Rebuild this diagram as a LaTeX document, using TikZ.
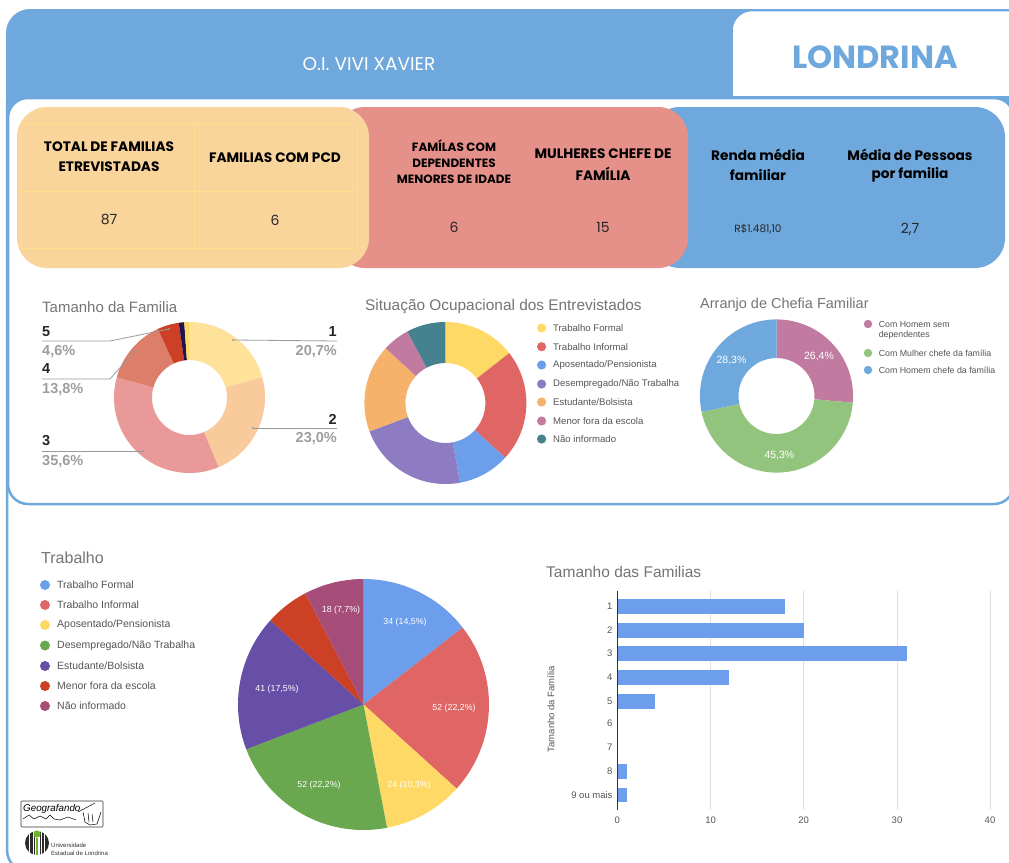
\documentclass[tikz,border=0pt]{standalone}
\usepackage{fontspec}
\setmainfont{Liberation Sans}
\newfontfamily\gothic{Poppins}
\definecolor{hblue}{HTML}{6FA8DC}
\definecolor{orangecard}{HTML}{F9D49B}
\definecolor{redcard}{HTML}{E6908A}
\definecolor{tline}{HTML}{FFE08A}
\definecolor{ttl}{HTML}{757575}
\definecolor{lgd}{HTML}{555555}
\definecolor{pctgrey}{HTML}{9E9E9E}
\definecolor{lead}{HTML}{9A9A9A}
\definecolor{gridc}{HTML}{DEDEDE}
\definecolor{barb}{HTML}{6D9EEB}
\definecolor{d1a}{HTML}{FFE299}
\definecolor{d1b}{HTML}{F9CB9C}
\definecolor{d1c}{HTML}{EA9999}
\definecolor{d1d}{HTML}{DD7E6B}
\definecolor{d1e}{HTML}{CC4125}
\definecolor{d1f}{HTML}{20124D}
\definecolor{d1g}{HTML}{FFD966}
\definecolor{cyel}{HTML}{FFD966}
\definecolor{cred}{HTML}{E06666}
\definecolor{cblu}{HTML}{6D9EEB}
\definecolor{cpur}{HTML}{8E7CC3}
\definecolor{cora}{HTML}{F6B26B}
\definecolor{cpin}{HTML}{C27BA0}
\definecolor{ctea}{HTML}{45818E}
\definecolor{cgrl}{HTML}{93C47D}
\definecolor{cgrn}{HTML}{6AA84F}
\definecolor{cvio}{HTML}{674EA7}
\definecolor{cdre}{HTML}{CC4125}
\definecolor{cmag}{HTML}{A64D79}
\definecolor{uelg}{HTML}{6FB52C}
\definecolor{ueld}{HTML}{2B2B2B}
\newcommand{\ringchart}[5]{%
  \begin{scope}[shift={(#1,#2)},y=1pt]
    \foreach \aa/\bb/\cc in {#5}{
      \fill[\cc] ({90-\aa}:#3) arc[start angle={90-\aa},end angle={90-\bb},radius=#3]
        -- ({90-\bb}:#4) arc[start angle={90-\bb},end angle={90-\aa},radius=#4] -- cycle;
    }
  \end{scope}}
\tikzset{
  card/.style={rounded corners=30pt},
  head/.style={font=\gothic\bfseries\fontsize{13.7}{13.7}\selectfont,inner sep=0pt,text=black},
  small/.style={font=\gothic\bfseries\fontsize{12}{12}\selectfont,inner sep=0pt,text=black},
  val/.style={font=\gothic\fontsize{14}{14}\selectfont,inner sep=0pt,text=black!85},
  ctitle/.style={anchor=west,inner sep=0pt,text=ttl},
  lga/.style={anchor=west,inner sep=0pt,text=lgd,font=\fontsize{9.6}{9.6}\selectfont},
  lgb/.style={anchor=west,inner sep=0pt,text=lgd,font=\fontsize{8.8}{8.8}\selectfont},
  lgc/.style={anchor=west,inner sep=0pt,text=lgd,font=\fontsize{10.5}{10.5}\selectfont},
  wl/.style={text=white,inner sep=0pt,font=\fontsize{8.8}{8.8}\selectfont},
  wm/.style={text=white,inner sep=0pt,font=\fontsize{10.5}{10.5}\selectfont},
  catl/.style={inner sep=0pt,anchor=west,font=\bfseries\fontsize{14.5}{14.5}\selectfont,text=black!85},
  catr/.style={inner sep=0pt,anchor=east,font=\bfseries\fontsize{14.5}{14.5}\selectfont,text=black!85},
  pctl/.style={inner sep=0pt,anchor=west,font=\bfseries\fontsize{14.5}{14.5}\selectfont,text=pctgrey},
  pctr/.style={inner sep=0pt,anchor=east,font=\bfseries\fontsize{14.5}{14.5}\selectfont,text=pctgrey},
  leader/.style={draw=lead,line width=0.8pt},
  enddot/.style={fill=lead},
  tickl/.style={inner sep=0pt,font=\fontsize{9.5}{9.5}\selectfont,text=lgd},
  tableline/.style={draw=tline,line width=0.6pt},
}
\begin{document}
\begin{tikzpicture}[x=1pt,y=-1pt]
\useasboundingbox (0,0) rectangle (1009,862);
\fill[white] (0,0) rectangle (1009,862);
% header and outer frame
\fill[hblue,rounded corners=24pt] (1040,9) -- (6,9) -- (6,160) -- (1040,160) -- cycle;
\begin{scope}
\clip (0,0) rectangle (1009,862);
\draw[hblue,line width=2.5pt,rounded corners=22pt] (7,100) -- (7,872) -- (50,872);
% white tab
\filldraw[fill=white,draw=hblue,line width=1.5pt,rounded corners=20pt] (1060,10.5) -- (732,10.5) -- (732,140) -- (1060,140) -- cycle;
% panel
\fill[hblue] (6,96) rectangle (1009,130);
\filldraw[fill=white,draw=hblue,line width=2.5pt,rounded corners=20pt] (8,98) rectangle (1014,504);
\end{scope}
\node[inner sep=0pt,text=white,font=\gothic\fontsize{18.5}{18.5}\selectfont] (oi) at (369,64) {O.I. VIVI XAVIER};
\node[inner sep=0pt,text=hblue,font=\gothic\bfseries\fontsize{32}{32}\selectfont] (city) at (875,57) {LONDRINA};
% cards
\fill[hblue,card] (650,107) rectangle (1005,268);
\fill[redcard,card] (335,107) rectangle (688,268);
\fill[orangecard,card] (17,107) rectangle (369,268);
\draw[tableline] (21,123) -- (357,123) (21,191) -- (357,191) (21,248) -- (357,248) (21,123) -- (21,248) (194,123) -- (194,248) (357,123) -- (357,248);
\node[head] (c1a) at (109,147) {TOTAL DE FAMILIAS};
\node[head] (c1b) at (109,167) {ETREVISTADAS};
\node[head] (c2) at (275,158) {FAMILIAS COM PCD};
\node[val] (v1) at (109,219) {87};
\node[val] (v2) at (275,220) {6};
\node[small] (c3a) at (454,146) {FAMÍLAS COM};
\node[small] (c3b) at (454,163) {DEPENDENTES};
\node[small] (c3c) at (454,179) {MENORES DE IDADE};
\node[head] (c4a) at (603,154) {MULHERES CHEFE DE};
\node[head] (c4b) at (603,174) {FAMÍLIA};
\node[val] (v3) at (454,227) {6};
\node[val] (v4) at (603,227) {15};
\node[head] (c5a) at (758,155) {Renda média};
\node[head] (c5b) at (758,175) {familiar};
\node[head] (c6a) at (910,155) {Média de Pessoas};
\node[head] (c6b) at (910,175) {por familia};
\node[val,font=\gothic\fontsize{10.5}{10.5}\selectfont] (v5) at (758,229) {R\$1.481,10};
\node[val] (v6) at (910,229) {2,7};
% donut 1
\node[ctitle,font=\fontsize{15}{15}\selectfont] (t1) at (42,307) {Tamanho da Familia};
\ringchart{189.5}{397.5}{75.5}{37.5}{0/74.5/d1a,74.5/157.3/d1b,157.3/285.5/d1c,285.5/335.2/d1d,335.2/351.8/d1e,351.8/356/d1f,356/360/d1g}
\node[catr] (n1) at (337,332) {1};
\node[pctr] (p1) at (337,352) {20,7\%};
\node[catr] (n2) at (337,419) {2};
\node[pctr] (p2) at (337,439) {23,0\%};
\node[catl] (n3) at (42,441) {3};
\node[pctl] (p3) at (42,462) {35,6\%};
\node[catl] (n4) at (42,369) {4};
\node[pctl] (p4) at (42,390) {13,8\%};
\node[catl] (n5) at (42,332) {5};
\node[pctl] (p5) at (42,352) {4,6\%};
\coordinate (a1) at (337,341); \coordinate (b1) at (233,340);
\coordinate (a2) at (337,428); \coordinate (b2) at (253,428);
\coordinate (a3) at (42,451); \coordinate (b3) at (143,451);
\coordinate (a4) at (42,379); \coordinate (m4) at (110,379); \coordinate (b4) at (135,351);
\coordinate (a5) at (42,341); \coordinate (m5) at (110,341); \coordinate (b5) at (169,329);
\draw[leader] (a1) -- (b1);
\draw[leader] (a2) -- (b2);
\draw[leader] (a3) -- (b3);
\draw[leader] (a4) -- (m4) -- (b4);
\draw[leader] (a5) -- (m5) -- (b5);
\foreach \p in {b1,b2,b3,b4,b5} \fill[enddot] (\p) circle[radius=1.2];
% donut 2
\node[ctitle,font=\fontsize{15.4}{15.4}\selectfont] (t2) at (365,307) {Situação Ocupacional dos Entrevistados};
\ringchart{445.4}{403}{81}{40}{0/52/cyel,52/132.5/cred,132.5/169.5/cblu,169.5/249.5/cpur,249.5/312.5/cora,312.5/332/cpin,332/360/ctea}
\foreach \yy/\cc/\tt in {328/cyel/Trabalho Formal,346.7/cred/Trabalho Informal,365/cblu/Aposentado\slash Pensionista,384/cpur/Desempregado\slash Não Trabalha,402/cora/Estudante\slash Bolsista,421/cpin/Menor fora da escola,439/ctea/Não informado}{
  \fill[\cc] (541.6,\yy) circle[radius=4.6];
  \node[lga] (la\yy) at (553,\yy) {\tt};
}
% donut 3
\node[ctitle,font=\fontsize{14.5}{14.5}\selectfont] (t3) at (700,305) {Arranjo de Chefia Familiar};
\ringchart{776.5}{396}{76.6}{38}{0/95/cpin,95/258/cgrl,258/360/hblue}
\node[wm] (w1) at (819,357) {26,4\%};
\node[wm] (w2) at (779.4,455) {45,3\%};
\node[wm] (w3) at (731.5,361) {28,3\%};
\fill[cpin] (868,324) circle[radius=4.2];
\fill[cgrl] (868,353) circle[radius=4.2];
\fill[hblue] (868,370) circle[radius=4.2];
\node[lgb] (lb1) at (878.6,324) {Com Homem sem};
\node[lgb] (lb2) at (878.6,335) {dependentes};
\node[lgb] (lb3) at (878.6,353) {Com Mulher chefe da família};
\node[lgb] (lb4) at (878.6,370) {Com Homem chefe da família};
% pie
\node[ctitle,font=\fontsize{16}{16}\selectfont] (t4) at (41,558) {Trabalho};
\foreach \yy/\cc/\tt in {585/cblu/Trabalho Formal,605/cred/Trabalho Informal,625/cyel/Aposentado\slash Pensionista,645.5/cgrn/Desempregado\slash Não Trabalha,666/cvio/Estudante\slash Bolsista,686/cdre/Menor fora da escola,706/cmag/Não informado}{
  \fill[\cc] (45,\yy) circle[radius=5];
  \node[lgc] (lc\yy) at (57,\yy) {\tt};
}
\ringchart{363.5}{704.5}{125.5}{0.01}{0/52.2/cblu,52.2/132.1/cred,132.1/169.2/cyel,169.2/249.1/cgrn,249.1/312.1/cvio,312.1/332.3/cdre,332.3/360/cmag}
\node[wl] (s1) at (405,622) {34 (14,5\%)};
\node[wl] (s2) at (454,708) {52 (22,2\%)};
\node[wl] (s3) at (409,785) {24 (10,3\%)};
\node[wl] (s4) at (319,785) {52 (22,2\%)};
\node[wl] (s5) at (277,689) {41 (17,5\%)};
\node[wl] (s6) at (341,610) {18 (7,7\%)};
% bars
\node[ctitle,font=\fontsize{15.5}{15.5}\selectfont] (t5) at (546,572) {Tamanho das Familias};
\foreach \xx/\vv in {710.7/10,803.7/20,897/30,990/40}{
  \draw[gridc,line width=1pt] (\xx,590.7) -- (\xx,810);
}
\foreach \xx/\vv in {617.3/0,710.7/10,803.7/20,897/30,990/40}{
  \node[tickl] (tx\vv) at (\xx,820.7) {\vv};
}
\foreach \yy/\vv/\ll in {606.7/18/1,630.3/20/2,653.7/31/3,677.3/12/4,701.3/4/5,723.7/0/6,747.3/0/7,771.7/1/8,795/1/9 ou mais}{
  \fill[barb] (617.3,\yy-7.3) rectangle (617.3+9.33*\vv,\yy+7.3);
  \node[tickl,anchor=east] (ty\yy) at (612.7,\yy) {\ll};
}
\draw[black!80,line width=0.8pt] (617.3,590.7) -- (617.3,810);
\node[tickl,rotate=90] (yax) at (551,709) {Tamanho da Família};
% logos
\draw[black!80,line width=0.6pt,rounded corners=1pt] (21,801) rectangle (103,827);
\node[inner sep=0pt,anchor=west,font=\itshape\fontsize{9.8}{9.8}\selectfont,text=black] (geo) at (23,809) {Geografando};
\draw[black,line width=0.5pt,line join=round] (23,819) -- (29,815) -- (34,819) -- (40,816) -- (46,819) -- (50,815) -- (54,819) -- (60,820) -- (68,817) -- (76,820);
\draw[black,line width=0.5pt] (78,812) -- (95,803);
\draw[black,line width=0.5pt,line join=round] (83,812) -- (85,822) -- (90,825) -- (97,824) -- (101,812);
\draw[black,line width=0.5pt] (88,813) -- (89,822) (92,814) -- (93,822);
\fill[ueld] (37,843) circle[radius=12];
\foreach \xx in {29.5,33,41,44.5} \fill[white] (\xx-0.5,830) rectangle (\xx+0.5,856);
\fill[white] (34.5,830) rectangle (39.5,856);
\fill[uelg] (36,838) rectangle (38,855);
\fill[uelg] (37,834) circle[radius=3.6];
\node[inner sep=0pt,anchor=west,font=\rmfamily\fontsize{6}{6}\selectfont,text=black!80] (u1) at (51,845.5) {Universidade};
\node[inner sep=0pt,anchor=west,font=\rmfamily\fontsize{6}{6}\selectfont,text=black!80] (u2) at (51,853) {Estadual de Londrina};
\end{tikzpicture}
\end{document}
